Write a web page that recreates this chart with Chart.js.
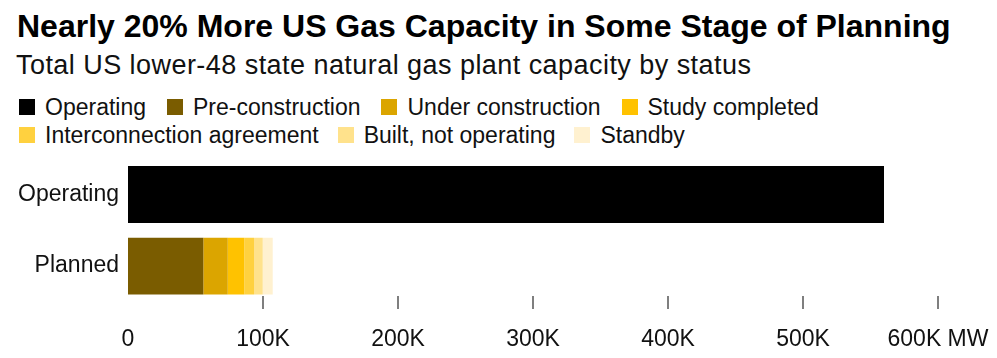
<!DOCTYPE html>
<html>
<head>
<meta charset="utf-8">
<script src="https://cdn.jsdelivr.net/npm/chart.js@4/dist/chart.umd.min.js"></script>
<style>
  html, body { margin: 0; padding: 0; background: #fff; }
  body { width: 997px; height: 358px; position: relative; overflow: hidden; font-family: "Liberation Sans", Arial, sans-serif; color: #000; }
  #title { position: absolute; left: 17px; top: 10px; font-size: 32px; font-weight: bold; line-height: 32px; white-space: nowrap; }
  #subtitle { position: absolute; left: 16px; top: 52px; font-size: 27px; letter-spacing: 0.45px; line-height: 27px; white-space: nowrap; color: #111; }
  #legend { position: absolute; left: 19px; top: 93px; width: 975px; font-size: 23px; line-height: 28px; color: #111; }
  .item { display: inline-block; margin-right: 21px; white-space: nowrap; }
  .item:nth-child(5), .item:nth-child(6) { margin-right: 19px; }
  .sw { display: inline-block; width: 16px; height: 16px; margin-right: 10px; vertical-align: baseline; }
  #chart { position: absolute; left: 0; top: 150px; }
</style>
</head>
<body>
<div id="title">Nearly 20% More US Gas Capacity in Some Stage of Planning</div>
<div id="subtitle">Total US lower-48 state natural gas plant capacity by status</div>
<div id="legend"></div>
<canvas id="chart" width="997" height="208"></canvas>
<script>
const categories = ["Operating", "Planned"];
const seriesNames = ["Operating", "Pre-construction", "Under construction", "Study completed", "Interconnection agreement", "Built, not operating", "Standby"];
const seriesColors = ["#000000", "#7A5C00", "#DBA500", "#FFC200", "#FFD13F", "#FFE28C", "#FFF1D0"];
const operating = [560000, null];
const preConstruction = [null, 55800];
const underConstruction = [null, 18100];
const studyCompleted = [null, 12300];
const interconnectionAgreement = [null, 7200];
const builtNotOperating = [null, 6400];
const standby = [null, 7400];
const tickValues = [0, 100000, 200000, 300000, 400000, 500000, 600000];
const tickLabels = ["0", "100K", "200K", "300K", "400K", "500K", "600K MW"];

const seriesData = [operating, preConstruction, underConstruction, studyCompleted, interconnectionAgreement, builtNotOperating, standby];

// HTML legend built from the series arrays
const legend = document.getElementById('legend');
seriesNames.forEach((name, i) => {
  const it = document.createElement('span');
  it.className = 'item';
  const sw = document.createElement('span');
  sw.className = 'sw';
  sw.style.background = seriesColors[i];
  it.appendChild(sw);
  it.appendChild(document.createTextNode(name));
  legend.appendChild(it);
});

const tickMarks = {
  id: 'tickMarks',
  afterDraw(chart) {
    const xs = chart.scales.x;
    const ctx = chart.ctx;
    const bottom = chart.chartArea.bottom;
    ctx.save();
    ctx.strokeStyle = '#555';
    ctx.lineWidth = 1.5;
    xs.ticks.forEach((t) => {
      if (t.value === 0) return;
      const x = Math.round(xs.getPixelForValue(t.value));
      ctx.beginPath();
      ctx.moveTo(x, bottom - 6);
      ctx.lineTo(x, bottom + 7);
      ctx.stroke();
    });
    ctx.restore();
  }
};

function zeroPad(scale) {
  scale.paddingTop = 0; scale.paddingBottom = 0;
  scale.paddingLeft = 0; scale.paddingRight = 0;
}

new Chart(document.getElementById('chart'), {
  type: 'bar',
  data: {
    labels: categories,
    datasets: seriesNames.map((n, i) => ({
      label: n,
      data: seriesData[i],
      backgroundColor: seriesColors[i],
      borderWidth: 0,
      barPercentage: 0.794,
      categoryPercentage: 1.0
    }))
  },
  options: {
    indexAxis: 'y',
    responsive: false,
    animation: false,
    devicePixelRatio: 1,
    layout: { padding: { top: 8.6, right: 59, left: 0, bottom: 0 } },
    plugins: { legend: { display: false }, tooltip: { enabled: false } },
    scales: {
      x: {
        stacked: true,
        min: 0,
        max: 600000,
        afterBuildTicks(scale) { scale.ticks = tickValues.map(v => ({ value: v })); },
        afterFit(scale) { scale.height = 56; zeroPad(scale); },
        grid: { display: false, drawTicks: false },
        border: { display: false },
        ticks: {
          padding: 24,
          color: '#111',
          font: { family: '"Liberation Sans", Arial, sans-serif', size: 23 },
          maxRotation: 0,
          autoSkip: false,
          callback: (v, i) => tickLabels[i]
        }
      },
      y: {
        stacked: true,
        afterFit(scale) { scale.width = 128; zeroPad(scale); },
        grid: { display: false, drawTicks: false },
        border: { display: false },
        ticks: {
          padding: 9,
          color: '#111',
          font: { family: '"Liberation Sans", Arial, sans-serif', size: 23 }
        }
      }
    }
  },
  plugins: [tickMarks]
});
</script>
</body>
</html>
